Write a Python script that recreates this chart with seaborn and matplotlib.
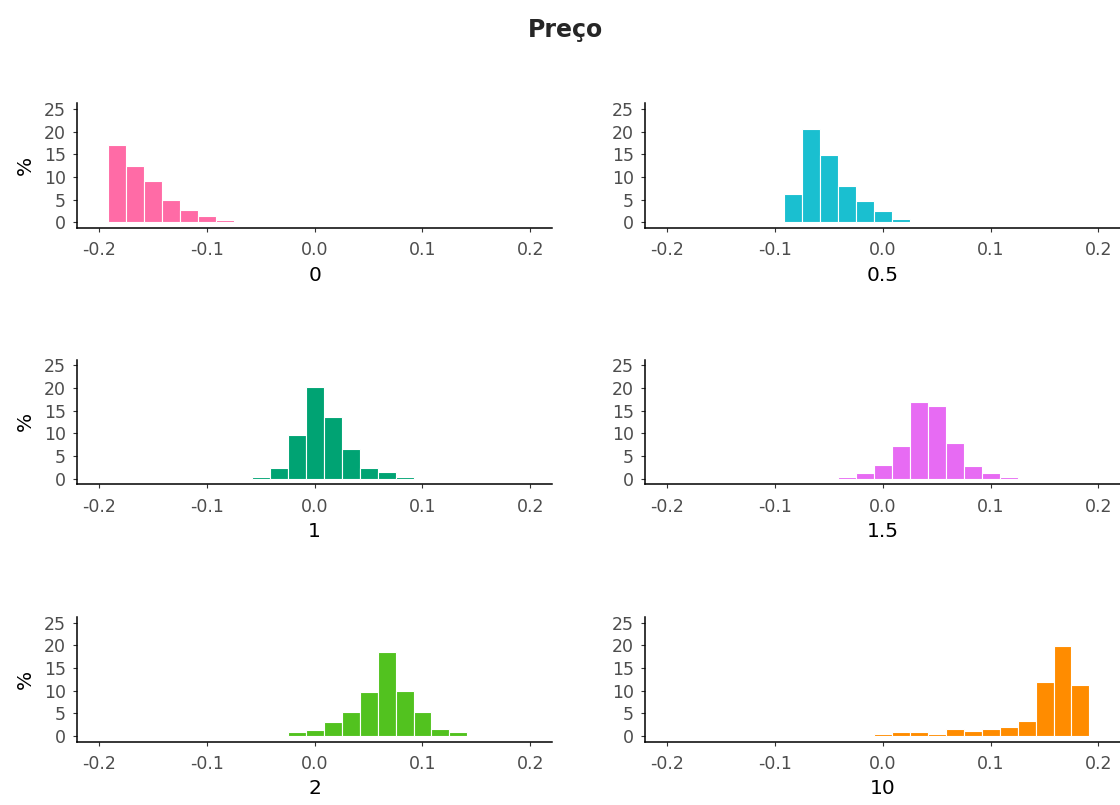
import numpy as np
import pandas as pd
import matplotlib
matplotlib.use("Agg")
import matplotlib.pyplot as plt
import seaborn as sns

# shared histogram grid (23 bins from -0.1917 to 0.1917)
bin_lo, bin_hi, n_bins = -0.1917, 0.1917, 23
bin_edges = np.linspace(bin_lo, bin_hi, n_bins + 1)
bin_centers = (bin_edges[:-1] + bin_edges[1:]) / 2

panel_labels = ["0", "0.5", "1", "1.5", "2", "10"]
panel_colors = ["#FF6BA6", "#1ABFD0", "#00A373", "#E76BF3", "#52C21F", "#FF8C00"]

# first bin index of each panel and the bar heights (%)
start_0 = 0
pct_0 = [17.0, 12.5, 9.1, 5.0, 2.7, 1.3, 0.5]
start_05 = 6
pct_05 = [6.2, 20.5, 14.8, 8.1, 4.6, 2.4, 0.8]
start_1 = 8
pct_1 = [0.4, 2.3, 9.7, 20.2, 13.5, 6.5, 2.3, 1.5, 0.4]
start_15 = 9
pct_15 = [0.45, 1.2, 3.1, 7.2, 16.9, 16.1, 7.9, 2.7, 1.2, 0.45]
start_2 = 10
pct_2 = [0.9, 1.3, 3.1, 5.3, 9.6, 18.5, 10.0, 5.3, 1.6, 0.9]
start_10 = 11
pct_10 = [0.5, 0.9, 0.9, 0.5, 1.5, 1.2, 1.5, 1.9, 3.4, 12.0, 19.8, 11.2]

starts = [start_0, start_05, start_1, start_15, start_2, start_10]
pcts = [pct_0, pct_05, pct_1, pct_15, pct_2, pct_10]

sns.set_style("ticks")
plt.rcParams["font.family"] = ["DejaVu Sans"]

fig = plt.figure(figsize=(11.2, 8.05), dpi=100)
fig.suptitle("Preço", fontsize=17, fontweight="bold", x=0.5045, y=0.954, va="baseline")

lefts = [0.069, 0.5762]
bottoms = [0.7168, 0.3984, 0.0786]
w, h = 0.4238, 0.155

for i, (lab, col, st, pc) in enumerate(zip(panel_labels, panel_colors, starts, pcts)):
    r, c = divmod(i, 2)
    ax = fig.add_axes([lefts[c], bottoms[r], w, h])
    xs = bin_centers[st:st + len(pc)]
    df = pd.DataFrame({"x": xs, "pct": pc})
    sns.histplot(data=df, x="x", weights="pct",
                 binwidth=(bin_hi - bin_lo) / n_bins, binrange=(bin_lo, bin_hi),
                 color=col, edgecolor="white", linewidth=0.8, alpha=1, ax=ax)
    ax.set_xlim(-0.22, 0.22)
    ax.set_ylim(-1.25, 26.25)
    ax.set_xticks([-0.2, -0.1, 0.0, 0.1, 0.2])
    ax.set_xticklabels(["-0.2", "-0.1", "0.0", "0.1", "0.2"])
    ax.set_yticks([0, 5, 10, 15, 20, 25])
    ax.tick_params(labelsize=12.5, colors="#333333", labelcolor="#4D4D4D",
                   length=3, width=0.8)
    ax.tick_params(axis="x", pad=6.6)
    ax.tick_params(axis="y", pad=5.2)
    for s in ["left", "bottom"]:
        ax.spines[s].set_linewidth(1.1)
        ax.spines[s].set_color("black")
    sns.despine(ax=ax)
    ax.set_xlabel(lab, fontsize=14.5, color="black", labelpad=4.5)
    if c == 0:
        ax.set_ylabel("%", fontsize=14.5, color="black", labelpad=6.5)
    else:
        ax.set_ylabel("")

fig.savefig("out.png", dpi=100)
